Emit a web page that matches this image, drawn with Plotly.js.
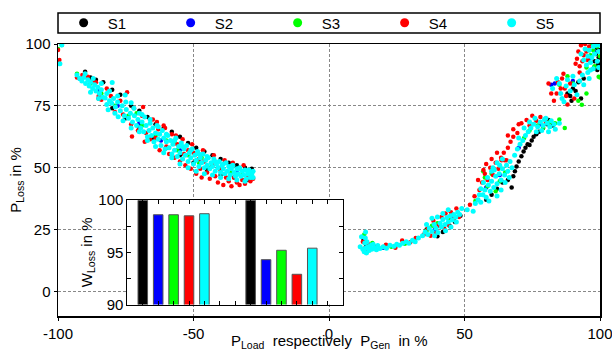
<!DOCTYPE html>
<html>
<head>
<meta charset="utf-8">
<script src="https://cdn.plot.ly/plotly-3.0.1.min.js"></script>
<style>html,body{margin:0;padding:0;background:#fff;}#chart{width:612px;height:349px;}</style>
</head>
<body>
<div id="chart"></div>
<script>
// ---- data ----
var seriesNames = ['S1', 'S2', 'S3', 'S4', 'S5'];
var seriesColors = ['#000000', '#0000ff', '#00ff00', '#ff0000', '#00ffff'];
var xTitle = 'P<sub>Load</sub>  respectively  P<sub>Gen</sub>  in %';

// S1 (black)
var s1x = [-90,-88,-86,-83.3,-80,-77,-73,-70,-67,-64,-61,-58,-55,-52,-49,-46,-43,-40,-37,-34,-31,-28.5,-60,-55,-50,-45,-40,-35,-30,-65,-70,-75,-80,-85,
  12.8,13.6,36,40,42,44.5,46.5,48.5,58,60,62,64,66,67.4,68,68.6,69.2,70,71,71.8,72.5,73.3,74,74.8,75.5,76.5,77.5,79,80.5,81,82.5,
  88,89,90,91,92,93,94,89.5,98,98.5,99,99.2,99.5,99.8,100,98.8,97.8];
var s1y = [88.8,86.5,85.5,84.5,81.5,79.5,75,73,70.5,67.5,66,64.5,62.5,60,58,56.5,55,53.5,52,51,50,49.5,58,55,52,49,47,46,45,62,66,70,74,78,
  21,18,25,22.3,24,26.5,28,30.5,37,39,41.5,44,45,42,46.5,48.5,50.5,52.5,54.6,56.5,58,59.5,59.2,61,62.5,63.5,64.5,66,67.5,69.3,67,
  80,79,82,81,84.5,78,86,77,93,96,89.5,91.5,94.5,97.5,92,98.5,90.5];

// S2 (blue)
var s2x = [-92,-85,-78,-70,-62,-55,-48,-41,-34,-29,
  13.5,20,39,45,58,63,70,78,82,83.3,90,96,98];
var s2y = [86,81,75,68,61,57,53,50,48,47,
  20,17.6,25,30,42,47,58,67.5,83.5,84,85,94,97];

// S3 (green)
var s3x = [-98.6,-100,-93,-88,-84,-79,-74,-69,-64,-60,-56,-52,-48,-44,-40,-36,-32,-29,-57,-47,-71,
  13,14,16,23,28,36,38,40,44,54,56.9,57.5,58.5,60,61.5,63,65,72,74,77,79,81.5,83.4,87,85,
  85,88,90,92,93.3,95,99.5,100,95,96.5,97.5,98,99,100,97];
var s3y = [99.6,98,88,84,80,75,71,67,63,61,57,55,52,50,49,48,47,46.5,60.5,54,72,
  23,16,19.5,18,19.2,24.5,26.5,27.5,29.5,36.5,48.5,46,42.5,47.5,40.5,44.5,48,62,65,67,66,68.5,68,66,69.5,
  83.5,87,84,77,75.4,80,86.8,86.5,90.5,95.5,97.5,91,99,95,100];

// S4 (red)
var s4x = [-100,-99.5,-93,-91,-89,-87.5,-86,-85,-84,-82,-80.5,-79,-77,-76,-74.5,-73,-72,-72.7,-70.5,-69,-68.6,-68,-67.5,-66,-65,-64,-63,-62.5,-61,-60,-59,
  -58,-57,-56,-55,-54,-53,-52,-51,-50,-49,-48,-47,-46,-45,-44,-43,-42,-41,-40,-39,-38,-37,-36,-35,-34,-33,-32,-31,-30,-29,-28,
  -56.5,-60.5,-63.5,-46.5,-42.5,-38.5,-35.5,-31.5,-50.5,-53.5,-47.5,
  12.5,13.2,14.5,17,21,24.5,27,30,32,35,36.5,37.5,38.5,39.5,40.5,41.5,42.5,43,44,45,46,47,48,52,53.7,
  55.5,56.5,57.5,58.5,59.5,60.5,61.5,62.5,63.5,64.5,65.5,63.7,64.8,66,67,68,69.5,71,72.9,74,75,76.5,78,80,
  60,58,62,66,68,70,57,55,
  81,82,83,84,84.5,85.5,86,87,87.5,88,89,90.5,86.5,
  91.5,92,92.5,93,93.5,94,94.5,95,95.5,96,92.5,91];
var s4y = [97.6,93.5,86.5,87.5,86.8,85,84.5,79,77.5,82,79,72.5,77,71.5,80.5,67.5,74,62.6,65,71,74.5,60.5,64,61.5,69.5,62,65.5,57,67,58.5,55.5,
  63.5,54,59.5,52.5,61.5,51,57,49.5,56,47.5,53.5,46,52.5,48,45.5,51,46.5,44,49,43,46,44.5,42.5,46,44,43,45,43.5,46,44.5,45.5,
  63,66,68.5,57,55,53,52,51,59.5,55.5,49.5,
  20,16.5,19,18,18.8,17.6,20.5,19.8,21.5,23,25.5,22.5,28.5,23.5,26.5,30,25.5,31.5,27,32,29,33.5,30,35,38.4,
  41,44,47.5,45,50,47,52,49.5,54,56,53,53,53,58,60.5,62.5,64,68,69.3,67,71,69,70.5,68.5,
  53.5,51.5,56,63,65.5,67.5,49,45,
  84,80,77,80,84.5,82,86,82,79,75.5,84,78,88,
  94,97,91,99.5,93,95.5,100,97,93.5,99,88.5,92];

// S5 (cyan)
var s5x = [-99.3,-98.6,-93,-92,-91.2,-90.5,-89.8,-89,-88.5,-88,-87.2,-86.5,-86,-85.3,-84.7,-84,-83.5,-82.6,-82,-81.5,-81,-80,-80.2,-79.5,-78.8,-77.8,-78,-77,-76.3,-75.2,
  -75.5,-74.8,-74,-73.3,-73,-72.5,-71.8,-71,-70.5,-70,-69.5,-69,-68.4,-68,-67.5,-67,-66.4,-66,-65.5,-65,-64.6,-64,-63.5,-63,-62.5,-62,-61.5,-61,-60.5,-60,
  -59.5,-59,-58.5,-58,-57.6,-57,-56.5,-56,-55.5,-55,-54.5,-54,-53.5,-53,-52.5,-52,-51.5,-51,-50.5,-50,-49.5,-49,-48.5,-48,-47.5,-47,-46.5,-46,-45.5,-45,
  -44.5,-44,-43.5,-43,-42.5,-42,-41.5,-41,-40.5,-40,-39.5,-39,-38.5,-38,-37.5,-37,-36.5,-36,-35.5,-35,-34.5,-34,-33.5,-33,-32.5,-32,-31.5,-31,-30.5,-30,-29.5,-29,-28.5,-28,
  -90,-87,-84,-81,-78,-75,-72,-69,-66,-63,-60,-57,-54,-51,-48,-45,-42,-39,-36,-33,-30,
  -88,-85,-82,-79,-76,-73,-70,-67,-64,-61,-58,-55,-52,-49,-46,-43,-40,-37,-34,-31,-28,
  11.5,12,12.5,13,13.2,13.4,13.5,13.6,13.8,14,14.3,14.8,15.3,15.8,16.3,16.8,17.5,18,18.8,
  20,21.2,22.5,24,25,26,27.2,28.5,29.5,30.8,31.8,33,
  34.5,35.5,36.5,37,38,38.8,39.5,40.2,41,41.5,42,42.8,43.5,44,44.8,45.5,46,46.8,47.5,48.2,49,
  36,38,40,42,44,45,43,47,39,
  51,53.2,54,55,
  56,56.8,57.5,58,58.8,59.5,60,60.8,61.5,62,62.8,63.5,64,64.8,65.5,66,66.8,67.5,63,61,
  57,59,60.5,62,63.5,65,66.5,64,62,60,58.5,56,55.5,
  68.5,69.5,70.5,71.5,72.5,73.5,74.5,75.5,76,77,78,79,79.5,80.5,81.5,82,83,
  70,72,74,76.5,78.5,80,81,83.5,85,
  82.5,84,85,85.5,86,86.7,87.5,88,89,90,90.5,91.5,92.5,93.5,94,95.5,96,
  93,94,94.5,95,95.5,96,96.5,97,97.5,98,98.5,99,99.5,100,97.5,96.5,99.5];
var s5y = [92,99.6,87.5,86,85,86.5,84,85.5,83,84.5,82,83.5,81,82.5,80,81.5,78.5,78.2,80,73.4,77,84.4,76,78,74.5,70.6,76.5,73,75,79.4,
  71,73.5,70,72,76.2,68.5,71,67,69.5,72,66,68.5,64.5,70.5,67,62.5,65,68,63,66,60.5,64,67,61.5,63.5,59,65,62,57.5,60.5,
  63,58,61,55.5,59.5,57,62,54.5,58.5,56,60,53.5,57.5,55,59,52.5,56,54,57.5,51.5,55,53,56.5,50.5,54,52,55.5,50,53,51,
  54,49.5,52,50.5,53.5,48.5,51.5,50,52.5,48,51,49.5,47.5,52,48.5,50.5,47,49.5,51,48,46.5,49.5,47.5,50,46.5,48.5,47,49,45.5,47.5,49,46,47.5,48.5,
  88,86,84,81,79,76.5,74,71.5,69.5,66.5,63.5,61,58.5,57,55.5,54.5,52.5,51.5,50.5,49.5,48.5,
  80.5,78,75.5,72,69,66,64.5,61,58.5,56,54,51.5,50,48.5,47.5,47,46,45.5,45,44.5,46,
  18,22,17,16,19.5,21.5,24,17.5,15.5,20,18,16.5,18.5,17,19,17.5,16.8,18.5,17.3,
  18,17.4,18.6,18.2,19,18.6,19.4,20,19.4,20.6,20,21.5,
  22.5,24,23,25.5,24.2,27,25.5,23.8,27.5,26,29,27,29.8,28,30.5,28.8,31,30,32,31,33.5,
  27,29.5,30,31.5,33,26,24.5,28,22.5,
  33,32.4,35.5,37,
  36,39,41,38,43,40.5,44.5,42,46.5,43.5,47.5,45,49.5,47,51,48.5,52.5,50,51,49,
  44,36.5,50,38.5,41,44,46,53.5,52,48.5,46,41.5,39,
  55,57.5,59.5,61,63,64.5,66,67.5,70,66.5,68.5,67,69.5,68,66.5,69,67.5,
  62,66,68.5,64.5,65,70,64.5,65.5,68,
  82,86,84,80,78,76.6,83,85.5,81,87,83.5,79.5,85,87.5,83.5,88.5,86,
  96,93.5,98,91.5,95,97.5,92.5,94.5,90,96,99.5,93,97,99.5,99,89.5,90.5];

// inset: loss energy per series, two groups
var groups = [1, 2];
var wLoss = {
  S1: [100, 100],
  S2: [98.6, 94.3],
  S3: [98.6, 95.2],
  S4: [98.5, 92.9],
  S5: [98.7, 95.4]
};

var xs = [s1x, s2x, s3x, s4x, s5x];
var ys = [s1y, s2y, s3y, s4y, s5y];

var FONT = '"Liberation Sans", Arial, Helvetica, sans-serif';
var traces = [];
for (var i = 0; i < 5; i++) {
  traces.push({
    type: 'scatter', mode: 'markers', x: xs[i], y: ys[i],
    marker: {color: seriesColors[i], size: (i === 4 ? 5 : 4.5), line: {width: 0}},
    showlegend: false, hoverinfo: 'skip', xaxis: 'x', yaxis: 'y'
  });
}
for (var i = 0; i < 5; i++) {
  traces.push({
    type: 'bar', x: groups, y: wLoss[seriesNames[i]], name: seriesNames[i],
    marker: {color: seriesColors[i], line: {color: '#555555', width: 1}},
    showlegend: false, xaxis: 'x2', yaxis: 'y2'
  });
}
// legend entries
for (var i = 0; i < 5; i++) {
  traces.push({
    type: 'scatter', mode: 'markers', x: [null], y: [null], name: seriesNames[i],
    marker: {color: seriesColors[i], size: 9}, xaxis: 'x', yaxis: 'y', showlegend: true
  });
}

var step = 1 / 7;
var layout = {
  width: 612, height: 349,
  margin: {l: 58, r: 12, t: 44, b: 33, autoexpand: false},
  paper_bgcolor: '#ffffff', plot_bgcolor: '#ffffff',
  font: {family: FONT, size: 15, color: '#000'},
  barmode: 'group', bargap: 2 / 7, bargroupgap: 0.38,
  showlegend: true,
  legend: {
    orientation: 'h', x: 0.003, xanchor: 'left', y: 1.077, yanchor: 'middle',
    bgcolor: 'rgba(0,0,0,0)', borderwidth: 0, itemwidth: 38, entrywidth: 54,
    font: {family: FONT, size: 15, color: '#000'}, itemclick: false
  },
  xaxis: {
    domain: [0, 1], range: [-100, 100], tickvals: [-100, -50, 0, 50, 100], ticktext: ['-100', '-50', '0', '50', '100'],
    ticks: 'outside', ticklen: 3, tickcolor: '#000', showline: true, linecolor: '#000', linewidth: 1.5, mirror: true,
    showgrid: true, gridcolor: '#888', griddash: '3px,2px', gridwidth: 1, zeroline: false,
    tickfont: {size: 15}, automargin: false, ticklabeloverflow: 'allow'
  },
  yaxis: {
    domain: [0, 1], range: [-10, 100], tickvals: [0, 25, 50, 75, 100],
    ticks: 'outside', ticklen: 3, tickcolor: '#000', showline: true, linecolor: '#000', linewidth: 1.5, mirror: true,
    showgrid: true, gridcolor: '#888', griddash: '3px,2px', gridwidth: 1, zeroline: false,
    title: {text: 'P<sub>Loss</sub> in %', standoff: 0, font: {size: 15}},
    tickfont: {size: 15}, automargin: false, ticklabeloverflow: 'allow'
  },
  xaxis2: {
    domain: [0.128, 0.526], anchor: 'y2', range: [1 - 3 * step, 2 + 4 * step],
    tickmode: 'linear', tick0: 1 - 3 * step, dtick: step, showticklabels: false,
    ticks: 'inside', ticklen: 4, tickcolor: '#000', showline: true, linecolor: '#000', linewidth: 1, mirror: 'allticks',
    showgrid: false, zeroline: false
  },
  yaxis2: {
    domain: [0.042, 0.426], anchor: 'x2', range: [90, 100], tickvals: [90, 95, 100],
    ticks: 'inside', ticklen: 4, tickcolor: '#000', showline: true, linecolor: '#000', linewidth: 1, mirror: 'allticks',
    minor: {tickvals: [92.5, 97.5], ticks: 'inside', ticklen: 4, tickcolor: '#000'},
    showgrid: false, zeroline: false,
    title: {text: 'W<sub>Loss</sub> in %', standoff: 2, font: {size: 15}},
    tickfont: {size: 15}
  },
  annotations: [{
    text: xTitle, xref: 'paper', yref: 'paper', x: 0.5, y: -0.092, xanchor: 'center', yanchor: 'middle',
    showarrow: false, font: {family: FONT, size: 15, color: '#000'}
  }],
  shapes: [{
    type: 'rect', xref: 'paper', yref: 'paper', x0: 0, x1: 1, y0: 1.040, y1: 1.114,
    line: {color: '#000', width: 1.5}, fillcolor: 'rgba(0,0,0,0)', layer: 'below'
  }]
};

Plotly.newPlot('chart', traces, layout, {displayModeBar: false, staticPlot: true});
</script>
</body>
</html>
